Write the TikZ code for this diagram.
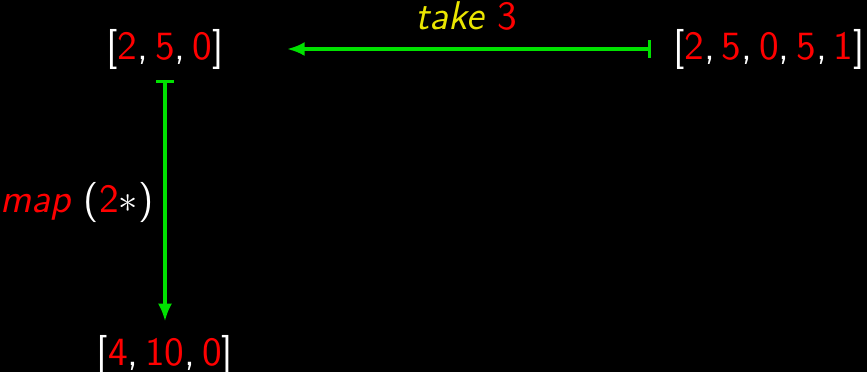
\documentclass[tikz,border=0pt]{standalone}
\usepackage{tikz}
\usetikzlibrary{arrows.meta,positioning}
\definecolor{listred}{RGB}{255,0,0}
\definecolor{listgreen}{RGB}{0,225,0}
\definecolor{fnyellow}{RGB}{235,230,0}
\newcommand{\el}[1]{\textcolor{listred}{#1}}

\begin{document}
\begin{tikzpicture}[x=0.01cm, y=-0.01cm,
    lst/.style={inner sep=0pt, text=white, font=\sffamily\fontsize{11.4}{14}\selectfont},
    mapsto/.style={listgreen, line width=0.9pt, {Bar[width=5pt]}-{Latex[length=5pt,width=4pt]}}]
        \fill[black] (0,0) rectangle (867,372);
        \useasboundingbox (0,0) rectangle (867,372);
        \node[lst] (short) at (165,49) {[\el{2},\,\el{5},\,\el{0}]};
        \node[lst] (long) at (769,49) {[\el{2},\,\el{5},\,\el{0},\,\el{5},\,\el{1}]};
        \node[lst] (double) at (165,355) {[\el{4},\,\el{10},\,\el{0}]};
        \draw[mapsto, shorten <=0.22cm, shorten >=0.63cm] (long.west) -- (short.east)
            node[lst, pos=0.46, above=0.17cm] {\textit{\textcolor{fnyellow}{take}} \el{3}};
        \draw[mapsto, shorten <=0.10cm, shorten >=0.13cm] (short.south) -- (double.north)
            node[lst, midway, left=0.1cm] {\textit{\el{map}} (\el{2}$\ast$)};
    \end{tikzpicture}
\end{document}
